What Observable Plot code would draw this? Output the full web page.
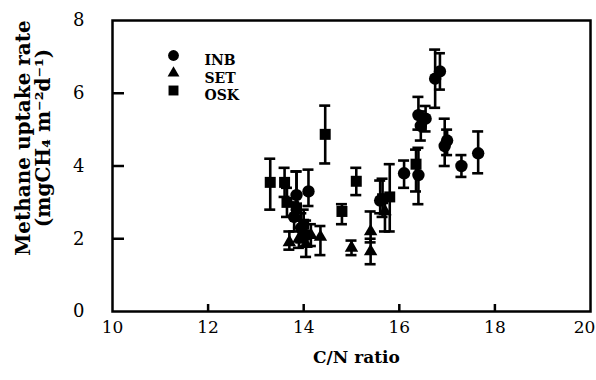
<!DOCTYPE html>
<html><head><meta charset="utf-8">
<script src="https://cdn.jsdelivr.net/npm/d3@7"></script>
<script src="https://cdn.jsdelivr.net/npm/@observablehq/plot@0.6"></script>
<style>body{margin:0;background:#fff}</style>
</head><body><div id="chart"></div>
<script>
// INB (circles)
const inbX  = [13.85, 14.1, 13.8, 13.95, 14.05, 15.6, 16.1, 16.4, 16.4, 16.45, 16.55, 16.75, 16.85, 16.95, 17.0, 17.3, 17.65];
const inbY  = [3.2, 3.3, 2.6, 2.3, 2.1, 3.05, 3.8, 3.75, 5.4, 5.1, 5.3, 6.4, 6.6, 4.55, 4.7, 4.0, 4.35];
const inbLo = [2.8, 2.9, 2.2, 1.9, 1.8, 2.7, 3.4, 2.95, 5.0, 4.7, 4.95, 5.6, 6.1, 4.0, 4.3, 3.7, 3.8];
const inbHi = [3.85, 3.9, 3.0, 2.7, 2.5, 3.6, 4.15, 4.5, 5.9, 5.5, 5.65, 7.2, 7.1, 5.3, 5.0, 4.3, 4.95];
// SET (triangles)
const setX  = [13.7, 13.9, 14.05, 14.15, 14.35, 15.0, 15.4, 15.4, 15.7];
const setY  = [1.9, 2.0, 1.85, 2.1, 2.05, 1.75, 2.2, 1.65, 2.75];
const setLo = [1.7, 1.75, 1.5, 1.8, 1.55, 1.55, 1.9, 1.3, 2.2];
const setHi = [2.2, 2.3, 2.2, 2.4, 2.35, 1.95, 2.75, 2.0, 3.2];
// OSK (squares)
const oskX  = [13.3, 13.6, 13.65, 13.85, 14.0, 14.45, 14.8, 15.1, 15.65, 15.8, 16.35];
const oskY  = [3.55, 3.55, 3.0, 2.85, 2.4, 4.87, 2.75, 3.58, 3.1, 3.15, 4.05];
const oskLo = [2.8, 3.15, 2.6, 2.5, 2.0, 4.07, 2.4, 3.2, 2.6, 2.2, 3.3];
const oskHi = [4.2, 3.95, 3.4, 3.85, 2.8, 5.66, 2.95, 3.95, 3.65, 4.05, 4.45];

const xTicks = [10, 12, 14, 16, 18, 20];
const yTicks = [0, 2, 4, 6, 8];
const sites = ["INB", "SET", "OSK"];
const xLabel = "C/N ratio";
const yLabel1 = "Methane uptake rate";
const yLabel2 = "(mgCH\u2084 m\u207B\u00B2d\u207B\u00B9)";

function rows(xs, ys, lo, hi, site) {
  return xs.map((x, i) => ({x, y: ys[i], lo: lo[i], hi: hi[i], site}));
}
const data = [
  ...rows(inbX, inbY, inbLo, inbHi, "INB"),
  ...rows(setX, setY, setLo, setHi, "SET"),
  ...rows(oskX, oskY, oskLo, oskHi, "OSK")
];
const symbolOf = {INB: "circle", SET: "triangle", OSK: "square"};
const rOf = {INB: 6.2, SET: 5.0, OSK: 6.2};
const rLegend = {INB: 5.4, SET: 4.4, OSK: 5.6};
const serif = "'DejaVu Serif', 'Liberation Serif', serif";

const marks = [
  Plot.frame({strokeWidth: 2.5}),
  Plot.axisX(xTicks.slice(0, -1), {tickSize: 0, tickPadding: 9, label: null, fontSize: 17}),
  Plot.axisX(xTicks.slice(-1), {tickSize: 0, tickPadding: 9, label: null, fontSize: 17, dx: -6}),
  Plot.axisY(yTicks, {tickSize: 0, tickPadding: 28, label: null, fontSize: 18}),
  Plot.ruleX(xTicks.slice(1, -1), {x: d => d, y1: 0, y2: 0, insetBottom: 7, strokeWidth: 2.5}),
  Plot.ruleY(yTicks.slice(1, -1), {y: d => d, x1: 10, x2: 10, insetRight: -12, strokeWidth: 2.5}),
  Plot.ruleX(data, {x: "x", y1: "lo", y2: "hi", strokeWidth: 2.6}),
  Plot.ruleY(data, {y: "lo", x1: "x", x2: "x", insetLeft: -5.5, insetRight: -5.5, strokeWidth: 2.6}),
  Plot.ruleY(data, {y: "hi", x1: "x", x2: "x", insetLeft: -5.5, insetRight: -5.5, strokeWidth: 2.6}),
  ...sites.map(s => Plot.dot(data.filter(d => d.site === s), {x: "x", y: "y", symbol: symbolOf[s], r: rOf[s], fill: "black", stroke: "none"})),
  ...sites.map((s, i) => Plot.dot([s], {frameAnchor: "top-left", dx: 61, dy: 35 + i * 17.5, symbol: symbolOf[s], r: rLegend[s], fill: "black", stroke: "none"})),
  ...sites.map((s, i) => Plot.text([s], {frameAnchor: "top-left", dx: 92, dy: 35 + i * 17.5, text: d => d, textAnchor: "start", fontWeight: "bold", fontSize: 14})),
  Plot.text([xLabel], {frameAnchor: "bottom", dx: 5, dy: 51, text: d => d, fontWeight: "bold", fontSize: 17}),
  Plot.text([yLabel1], {frameAnchor: "left", dx: -89, dy: -28, rotate: -90, textAnchor: "middle", text: d => d, fontWeight: "bold", fontSize: 20}),
  Plot.text([yLabel2], {frameAnchor: "left", dx: -69, dy: -28, rotate: -90, textAnchor: "middle", text: d => d, fontWeight: "bold", fontSize: 20})
];

const plot = Plot.plot({
  width: 596, height: 380,
  marginLeft: 112, marginRight: 6, marginTop: 20, marginBottom: 69,
  x: {domain: [10, 20]},
  y: {domain: [0, 8]},
  style: {fontFamily: serif, color: "black", background: "white", overflow: "visible"},
  marks
});
document.getElementById("chart").appendChild(plot);
</script>
</body></html>
